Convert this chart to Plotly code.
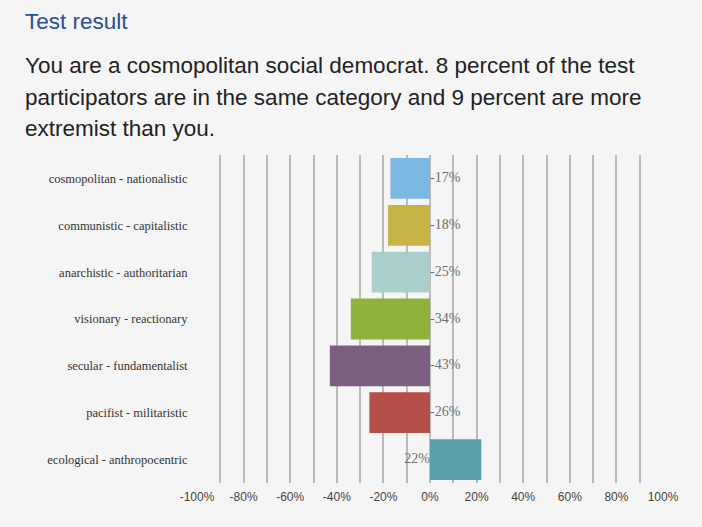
import plotly.graph_objects as go

categories = ['cosmopolitan - nationalistic', 'communistic - capitalistic',
              'anarchistic - authoritarian', 'visionary - reactionary',
              'secular - fundamentalist', 'pacifist - militaristic',
              'ecological - anthropocentric']
values = [-17, -18, -25, -34, -43, -26, 22]
bar_colors = ['#7db8e5', '#c5b446', '#a9cfcd', '#8fb33a', '#7b6082', '#b54e47', '#5a9dab']
tick_vals = [-100, -80, -60, -40, -20, 0, 20, 40, 60, 80, 100]
tick_text = ['%d%%' % v for v in tick_vals]

title_text = 'Test result'
para_lines = ['You are a cosmopolitan social democrat. 8 percent of the test',
              'participators are in the same category and 9 percent are more',
              'extremist than you.']

W, H = 702, 527
L, R, T, B = 197, 39, 155, 44
BG = '#f5f5f5'


def px_x(p):
    # pixel -> paper x
    return (p - L) / (W - L - R)


def px_y(p):
    return 1 - (p - T) / (H - T - B)


def main():
    fig = go.Figure()
    fig.add_trace(go.Bar(
        y=categories, x=values, orientation='h',
        marker=dict(color=bar_colors, line=dict(width=0)),
        width=0.87, hoverinfo='skip'))
    # value labels sit at the zero line, on the side opposite to the bar
    fig.add_trace(go.Scatter(
        y=categories, x=[0] * len(values), mode='text',
        text=['%d%%' % v for v in values],
        textposition=['middle right' if v < 0 else 'middle left' for v in values],
        textfont=dict(family='Liberation Serif', size=14, color='#6e6e6e'),
        hoverinfo='skip'))

    fig.add_annotation(text=title_text, xref='paper', yref='paper',
                       x=px_x(23), y=px_y(21), xanchor='left', yanchor='middle',
                       showarrow=False,
                       font=dict(family='Liberation Sans', size=22.5, color='#2c4d9a'))
    for i, line in enumerate(para_lines):
        fig.add_annotation(text=line, xref='paper', yref='paper',
                           x=px_x(23), y=px_y(66 + 31 * i), xanchor='left', yanchor='middle',
                           showarrow=False,
                           font=dict(family='Liberation Sans', size=22.5, color='#222222'))

    fig.update_layout(
        width=W, height=H,
        margin=dict(l=L, r=R, t=T, b=B),
        paper_bgcolor=BG, plot_bgcolor='rgba(0,0,0,0)',
        showlegend=False,
        xaxis=dict(range=[-100, 100], tickvals=tick_vals, ticktext=tick_text,
                   showgrid=True, gridcolor='#bababa', gridwidth=1.5,
                   minor=dict(dtick=10, showgrid=True, gridcolor='#bababa', gridwidth=1.5),
                   zeroline=False, showline=False,
                   ticks='outside', ticklen=3, tickcolor='rgba(0,0,0,0)',
                   tickfont=dict(family='Liberation Sans', size=12, color='#444444'),
                   fixedrange=True),
        yaxis=dict(categoryorder='array', categoryarray=categories, autorange='reversed',
                   showgrid=False, zeroline=False, showline=False,
                   ticks='outside', ticklen=6, tickcolor='rgba(0,0,0,0)',
                   tickfont=dict(family='Liberation Serif', size=12.5, color='#333333'),
                   fixedrange=True),
    )
    fig.write_html('out.html', config={'displayModeBar': False},
                   post_script="document.body.style.margin='0';"
                               "document.body.style.background='%s';" % BG)


if __name__ == '__main__':
    main()
